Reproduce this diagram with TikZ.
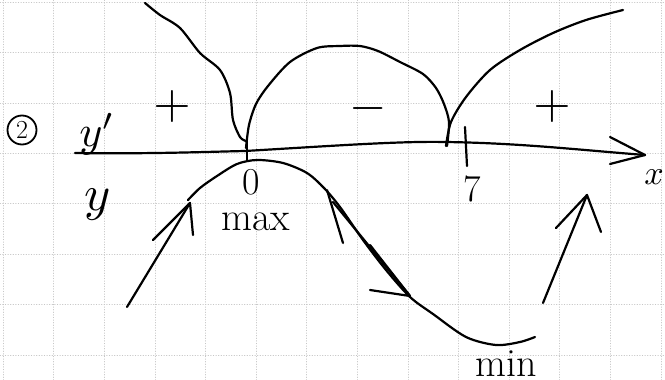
\documentclass[tikz,border=0pt]{standalone}
\usepackage{fontspec}
\usepackage{graphicx}
\begin{document}
\begin{tikzpicture}[
        x=1pt, y=-1pt,
        line cap=round, line join=round,
        pen/.style={line width=2.2pt},
        paper/.style={gray!45, dotted, line width=0.6pt},
        hand/.style={font=\fontsize{40}{40}\selectfont, inner sep=0pt},
        digit/.style={font=\fontsize{38}{38}\selectfont, inner sep=0pt},
    ]
        \useasboundingbox (0,0) rectangle (665,380);

        % Squared paper
        \foreach \gx in {0,...,13} \draw[paper] (3+50.6*\gx,0) -- (3+50.6*\gx,380);
        \foreach \gy in {0,...,7} \draw[paper] (0,2+50.4*\gy) -- (665,2+50.4*\gy);

        % Case number
        \node[draw, circle, line width=1.8pt, minimum size=29pt, inner sep=0pt, font=\fontsize{26}{26}\selectfont] (casetwo) at (22,130) {2};

        % x axis
        \coordinate (axisstart) at (75,153);
        \coordinate (axistip) at (645,155);
        \draw[pen] (axisstart) .. controls (150,154) and (200,152) .. (245,151)
            .. controls (330,146) and (400,141) .. (445,142)
            .. controls (520,143) and (580,150) .. (axistip);
        \draw[pen] (610,137) -- (axistip) -- (610,164);
        \node[inner sep=0pt] (xlabel) at (654,177) {\scalebox{3.4}{$x$}};

        % Ticks
        \draw[pen] (247,138) -- (247,161);
        \draw[pen] (465,127) -- (467,166);
        \node[digit] (zero) at (251,182) {0};
        \node[digit] (seven) at (472,189) {7};

        % Sign of y'
        \node[inner sep=0pt, anchor=base] (dylabel) at (97,146) {\scalebox{4.4}{$y'$}};
        \node[inner sep=0pt] (plusleft) at (172,106) {\scalebox{4.8}{$+$}};
        \node[inner sep=0pt] (minus) at (368,108) {\scalebox{4.8}{$-$}};
        \node[inner sep=0pt] (plusright) at (552,106) {\scalebox{4.8}{$+$}};

        % Graph of y'
        \draw[pen] plot[smooth] coordinates {(145,3) (160,15) (180,28) (200,53) (220,70) (230,93) (233,120) (240,137) (246,141)};
        \draw[pen] plot[smooth] coordinates {(246,148) (249,125) (256,104) (268,86) (290,62) (317,48) (340,46) (360,46) (378,51) (400,62) (423,74) (436,88) (444,104) (449,122) (447,146)};
        \draw[pen] plot[smooth] coordinates {(446,146) (451,122) (466,97) (490,70) (520,50) (553,33) (586,20) (623,10)};

        % Graph of y
        \node[inner sep=0pt, anchor=base] (ylabel) at (98,210) {\scalebox{5}{$y$}};
        \draw[pen] plot[smooth] coordinates {(188,200) (200,188) (217,176) (237,164) (257,160) (283,163) (307,173) (324,188) (340,207) (363,240) (386,270) (410,297) (433,314) (466,337) (496,345) (520,342) (535,337)};
        \node[hand] (maxlabel) at (256,222) {max};
        \node[hand] (minlabel) at (506,364) {min};

        % Monotonicity arrows
        \coordinate (risetail) at (127,307);
        \coordinate (risetip) at (190,203);
        \draw[pen] (risetail) -- (risetip);
        \draw[pen] (153,240) -- (risetip) -- (193,235);

        \coordinate (falltail) at (333,202);
        \coordinate (falltip) at (410,296);
        \draw[pen] (falltail) -- (falltip);
        \draw[pen] (327,190) -- (343,243);
        \draw[pen] (370,245) -- (falltip) -- (370,290);

        \coordinate (risetwotail) at (543,303);
        \coordinate (risetwotip) at (587,195);
        \draw[pen] (risetwotail) -- (risetwotip);
        \draw[pen] (556,228) -- (risetwotip) -- (601,232);
    \end{tikzpicture}
\end{document}
